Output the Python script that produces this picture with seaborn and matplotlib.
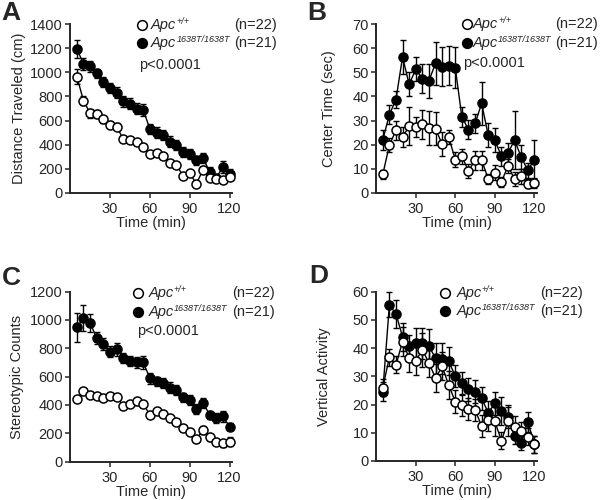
import numpy as np
import matplotlib
matplotlib.use("Agg")
import matplotlib.pyplot as plt
import seaborn as sns

sns.set_style("ticks")
plt.rcParams["font.family"] = ["Liberation Sans", "DejaVu Sans"]

time_min = [5, 10, 15, 20, 25, 30, 35, 40, 45, 50, 55, 60,
            65, 70, 75, 80, 85, 90, 95, 100, 105, 110, 115, 120]

# A - distance traveled (cm)
dist_mut = [1195, 1070, 1050, 990, 920, 870, 830, 760, 740, 700, 690, 530,
            500, 480, 425, 400, 340, 325, 270, 290, 175, 125, 218, 155]
dist_mut_sem = [75, 50, 45, 40, 45, 40, 45, 45, 45, 45, 50, 45,
                45, 40, 45, 40, 40, 40, 40, 45, 40, 30, 50, 40]
dist_wt = [965, 765, 660, 655, 610, 565, 550, 445, 440, 420, 385, 320,
           330, 303, 252, 230, 143, 166, 75, 193, 125, 115, 105, 130]
dist_wt_sem = [60, 40, 35, 30, 30, 30, 30, 25, 25, 25, 25, 25,
               25, 25, 25, 25, 20, 25, 20, 30, 25, 20, 20, 25]

# B - center time (sec)
center_mut = [22, 32.5, 38.7, 56.4, 45, 51.2, 47.4, 46.5, 53.7, 52.3, 52.8, 51.8,
              31.5, 26.3, 28.8, 37.1, 23.9, 21.9, 15.2, 16.6, 21.9, 14.9, 9.4, 13.8]
center_mut_sem = [4, 4, 3.5, 7, 5, 5, 6, 7, 9, 8, 8, 8.5,
                  4, 4, 4, 9, 5, 5, 4, 4, 12, 5, 3, 8]
center_wt = [7.7, 19.8, 26, 23.2, 27.7, 27.4, 28.5, 27, 26.7, 20.2, 23.2, 13.8,
             15.2, 9.1, 13.6, 13.6, 5.9, 8.4, 4.6, 11.2, 5.7, 6.9, 3.9, 4.1]
center_wt_sem = [2, 3, 4, 4, 8, 4, 6, 7, 7, 5, 3, 3,
                 3, 3, 4, 4, 2, 3, 2, 3, 3, 3, 2, 2]

# C - stereotypic counts
stereo_mut = [946, 1012, 977, 871, 829, 776, 793, 733, 711, 699, 699, 588,
              565, 555, 522, 506, 452, 431, 372, 416, 329, 306, 318, 247]
stereo_mut_sem = [105, 90, 65, 40, 40, 40, 45, 35, 35, 40, 45, 40,
                  35, 35, 40, 35, 30, 35, 35, 35, 30, 35, 40, 25]
stereo_wt = [440, 495, 471, 464, 447, 464, 455, 395, 407, 425, 407, 329,
             358, 334, 306, 282, 235, 207, 158, 222, 172, 141, 129, 141]
stereo_wt_sem = [20, 20, 20, 20, 20, 20, 20, 20, 20, 25, 20, 20,
                 20, 20, 20, 20, 20, 20, 20, 30, 25, 20, 25, 30]

# D - vertical activity
vert_mut = [24.6, 55.3, 52.1, 44, 40.7, 41.7, 41.7, 40.7, 36.4, 36.2, 35.3, 30.1,
            27.5, 25.4, 24.6, 22.2, 17.1, 20.4, 17.7, 15.7, 8.9, 6.5, 13.9, 6.0]
vert_mut_sem = [3.5, 4.5, 5, 5, 4, 5.5, 5.5, 6, 5.5, 5.5, 5, 4,
                4, 4, 4, 4, 4, 4, 5, 4, 3, 2.5, 3.5, 3]
vert_wt = [26, 36.7, 34, 42.3, 36.4, 35.5, 39.3, 34.8, 29.3, 33.5, 26.9, 21,
           19.8, 18.4, 18.1, 12.4, 14.5, 14, 7.2, 14, 12, 10.7, 8.6, 6]
vert_wt_sem = [3, 3, 3, 5, 5, 5, 6, 5, 5, 5, 5, 4,
               4, 4, 4, 4, 4, 5, 3, 5, 4, 3, 3, 3]

gene = "Apc"
wt_sup = "+/+"
mut_sup = "1638T/1638T"

FS = 10.5


def draw_group(ax, y, err, filled, z):
    ax.errorbar(time_min, y, yerr=err, fmt="none", ecolor="black",
                elinewidth=1, capsize=2.5, capthick=1, zorder=z, clip_on=False)
    sns.lineplot(x=time_min, y=y, ax=ax, color="black", linewidth=1,
                 marker="o", markersize=6.5,
                 markerfacecolor="black" if filled else "white",
                 markeredgecolor="black", markeredgewidth=1.1,
                 zorder=z + 0.5, clip_on=False)


def genotype(ax, x, y, sup):
    t = ax.text(x, y, gene, transform=ax.transAxes, ha="left", va="center",
                fontsize=FS, style="italic")
    ax.annotate(sup, xy=(1.0, 0.42), xycoords=t, ha="left", va="bottom",
                fontsize=6.5, style="italic")


def add_key(ax, ky, kx, tx, nx, show_p, px, py):
    ax.plot([kx], [ky[0]], "o", transform=ax.transAxes, clip_on=False,
            ms=7, mfc="white", mec="black", mew=1.1)
    ax.plot([kx], [ky[1]], "o", transform=ax.transAxes, clip_on=False,
            ms=7, mfc="black", mec="black", mew=1.1)
    genotype(ax, tx, ky[0], wt_sup)
    genotype(ax, tx, ky[1], mut_sup)
    ax.text(nx, ky[0], "(n=22)", transform=ax.transAxes, ha="right", va="center", fontsize=FS)
    ax.text(nx, ky[1], "(n=21)", transform=ax.transAxes, ha="right", va="center", fontsize=FS)
    if show_p:
        ax.text(px, py, "p<0.0001", transform=ax.transAxes, ha="left", va="center", fontsize=FS)


def style_axes(ax, ymax, ystep, ylabel, lab_x):
    ax.set_xlim(0, 122)
    ax.set_ylim(0, ymax)
    ax.set_xticks([30, 60, 90, 120])
    ax.set_yticks(np.arange(0, ymax + 1, ystep))
    ax.set_xlabel("Time (min)", fontsize=FS, labelpad=0)
    ax.set_ylabel(ylabel, fontsize=FS)
    ax.yaxis.set_label_coords(lab_x, 0.5)
    for s in ["top", "right"]:
        ax.spines[s].set_visible(False)
    for s in ["left", "bottom"]:
        ax.spines[s].set_linewidth(1.4)
    ax.tick_params(direction="out", length=3.6, width=1.1, labelsize=10.5)
    ax.tick_params(axis="y", pad=1.5)
    ax.tick_params(axis="x", pad=3)


fig = plt.figure(figsize=(6, 5), dpi=100)

axA = fig.add_axes([0.117, 0.614, 0.27, 0.338])
axB = fig.add_axes([0.627, 0.614, 0.268, 0.338])
axC = fig.add_axes([0.117, 0.077, 0.27, 0.34])
axD = fig.add_axes([0.627, 0.078, 0.268, 0.339])

draw_group(axA, dist_mut, dist_mut_sem, True, 3)
draw_group(axA, dist_wt, dist_wt_sem, False, 5)
style_axes(axA, 1400, 200, "Distance Traveled (cm)", -0.27)
add_key(axA, (0.994, 0.888), 0.444, 0.5, 1.278, True, 0.426, 0.757)

draw_group(axB, center_mut, center_mut_sem, True, 3)
draw_group(axB, center_wt, center_wt_sem, False, 5)
style_axes(axB, 70, 10, "Center Time (sec)", -0.25)
add_key(axB, (1.0, 0.89), 0.563, 0.6, 1.379, True, 0.543, 0.767)

draw_group(axC, stereo_mut, stereo_mut_sem, True, 3)
draw_group(axC, stereo_wt, stereo_wt_sem, False, 5)
style_axes(axC, 1200, 200, "Stereotypic Counts", -0.284)
add_key(axC, (0.99, 0.879), 0.42, 0.483, 1.265, True, 0.41, 0.765)

draw_group(axD, vert_mut, vert_mut_sem, True, 3)
draw_group(axD, vert_wt, vert_wt_sem, False, 5)
style_axes(axD, 60, 10, "Vertical Activity", -0.28)
add_key(axD, (0.994, 0.886), 0.43, 0.5, 1.283, False, 0, 0)

for lab, x, y in [("A", 0.003, 0.998), ("B", 0.512, 0.998),
                  ("C", 0.003, 0.468), ("D", 0.515, 0.472)]:
    fig.text(x, y, lab, fontsize=19, fontweight="bold", ha="left", va="top")

fig.savefig("out.png", dpi=100)
